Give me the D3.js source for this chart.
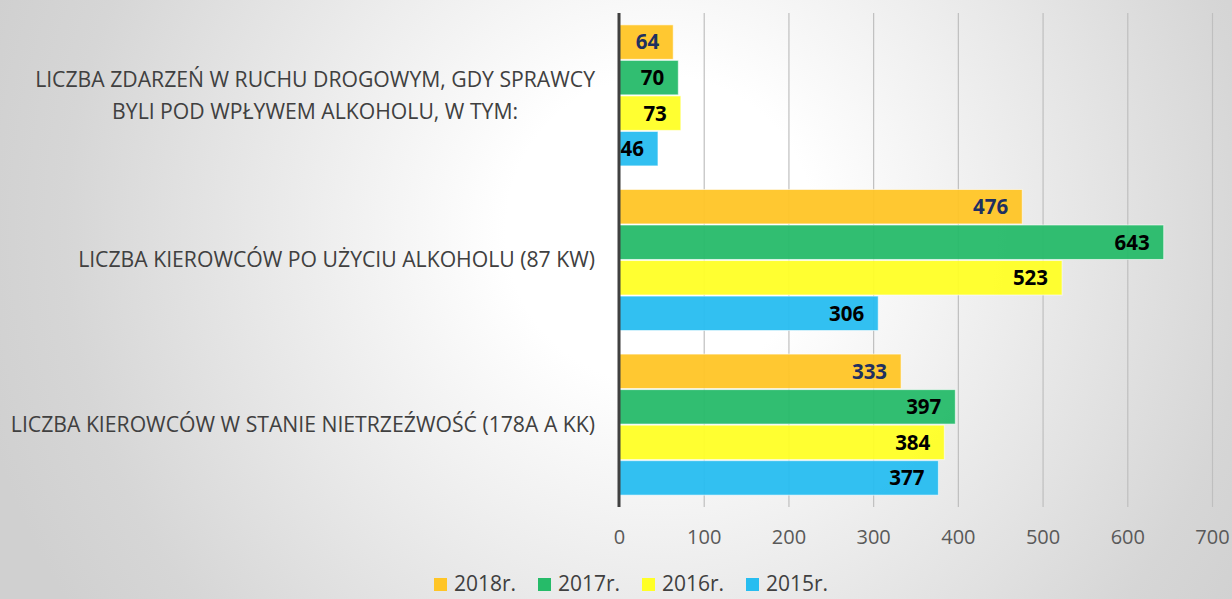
<!DOCTYPE html>
<html>
<head>
<meta charset="utf-8">
<script src="https://d3js.org/d3.v7.min.js"></script>
<style>
body { margin: 0; overflow: hidden; }
svg text { font-family: "Open Sans", "Noto Sans", sans-serif; }
</style>
</head>
<body>
<svg id="chart" width="1232" height="599"></svg>
<script>
// categories (top to bottom), each can have several lines
const categories = [
  ["LICZBA ZDARZEŃ W RUCHU DROGOWYM, GDY SPRAWCY", "BYLI POD WPŁYWEM ALKOHOLU, W TYM:"],
  ["LICZBA KIEROWCÓW PO UŻYCIU ALKOHOLU (87 KW)"],
  ["LICZBA KIEROWCÓW W STANIE NIETRZEŹWOŚĆ (178A A KK)"]
];
const series = ["2018r.", "2017r.", "2016r.", "2015r."];
const v2018 = [64, 476, 333];
const v2017 = [70, 643, 397];
const v2016 = [73, 523, 384];
const v2015 = [46, 306, 377];
const xTicks = [0, 100, 200, 300, 400, 500, 600, 700];

const colors = ["#ffc526", "#26bb69", "#ffff26", "#27bdf0"];
const labelColors = ["#1f3060", "#000", "#000", "#000"];
const values = [v2018, v2017, v2016, v2015];

const svg = d3.select("#chart");
const W = 1232, H = 599;

// background
const defs = svg.append("defs");
const grad = defs.append("radialGradient").attr("id", "bg")
  .attr("gradientUnits", "userSpaceOnUse")
  .attr("cx", 660).attr("cy", 230).attr("r", 700);
grad.append("stop").attr("offset", "0").attr("stop-color", "#ffffff");
grad.append("stop").attr("offset", "0.22").attr("stop-color", "#ffffff");
grad.append("stop").attr("offset", "0.85").attr("stop-color", "#d6d6d6");
grad.append("stop").attr("offset", "1").attr("stop-color", "#d0d0d0");
svg.append("rect").attr("width", W).attr("height", H).attr("fill", "url(#bg)");

const x = d3.scaleLinear().domain([0, 700]).range([619, 1212]);
const y = d3.scaleBand().domain(d3.range(categories.length)).range([13, 507])
  .paddingInner(0.143).paddingOuter(0.072);
const yi = d3.scaleBand().domain(d3.range(series.length)).range([0, y.bandwidth()]).paddingInner(0.03);

// gridlines + ticks
const gx = svg.append("g").attr("transform", "translate(0,507)")
  .call(d3.axisBottom(x).tickValues(xTicks).tickSize(-494).tickSizeOuter(0).tickPadding(23));
gx.select(".domain").remove();
gx.selectAll(".tick line").attr("stroke", "#bfbfbf").attr("stroke-width", 1.2);
gx.selectAll(".tick text").attr("fill", "#595959").attr("font-size", 20)
  .style("font-family", "'Open Sans', sans-serif");

// bars
const groups = svg.append("g").selectAll("g").data(categories).join("g")
  .attr("transform", (d, i) => `translate(0,${y(i)})`);

groups.each(function(cat, ci) {
  const g = d3.select(this);
  series.forEach((s, si) => {
    const v = values[si][ci];
    g.append("rect")
      .attr("x", x(0)).attr("y", yi(si))
      .attr("width", x(v) - x(0)).attr("height", yi.bandwidth())
      .attr("fill", colors[si]).attr("fill-opacity", 0.95)
      .attr("stroke", "#ffffff").attr("stroke-opacity", 0.6).attr("stroke-width", 1);
    g.append("text")
      .attr("x", x(v) - 14).attr("y", yi(si) + yi.bandwidth() / 2)
      .attr("dy", "0.36em").attr("text-anchor", "end")
      .attr("font-size", 20.5).attr("font-weight", "bold")
      .attr("fill", labelColors[si]).text(v);
  });
  // category label: lines centered on each other, block right-aligned
  const lh = 32;
  const lines = cat.map((line, li) => g.append("text")
    .attr("fill", "#404040").attr("font-size", 21.2)
    .attr("text-anchor", "middle")
    .attr("y", y.bandwidth() / 2 + (li - (cat.length - 1) / 2) * lh)
    .attr("dy", "0.35em").text(line));
  const maxW = d3.max(lines, t => t.node().getComputedTextLength());
  lines.forEach(t => t.attr("x", 595 - maxW / 2));
});

// axis line
svg.append("line").attr("x1", x(0)).attr("x2", x(0)).attr("y1", 13).attr("y2", 507)
  .attr("stroke", "#404040").attr("stroke-width", 3);

// legend
const leg = svg.append("g").selectAll("g").data(series).join("g")
  .attr("transform", (d, i) => `translate(${434 + i * 104},578)`);
leg.append("rect").attr("width", 13).attr("height", 13)
  .attr("fill", (d, i) => colors[i]);
leg.append("text").attr("x", 20).attr("y", 13).attr("font-size", 21)
  .attr("fill", "#404040").text(d => d);
</script>
</body>
</html>
